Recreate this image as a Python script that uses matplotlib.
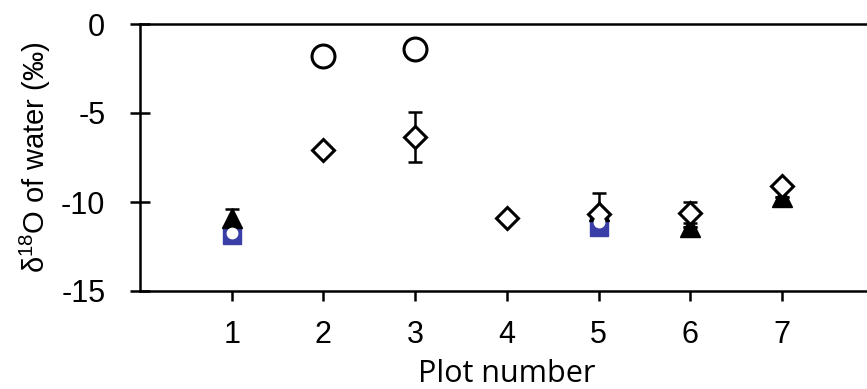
import matplotlib
matplotlib.use("Agg")
import matplotlib.pyplot as plt

plt.rcParams['font.family'] = ['Liberation Sans', 'DejaVu Sans']
plt.rcParams['mathtext.fontset'] = 'custom'
plt.rcParams['mathtext.rm'] = 'Liberation Sans'

# Data
circle_x = [2, 3]
circle_y = [-1.8, -1.4]

diamond_x = [2, 3, 4, 5, 6, 7]
diamond_y = [-7.1, -6.35, -10.9, -10.7, -10.6, -9.1]
diamond_err = [0, 1.4, 0, 0, 0.6, 0]

triangle_x = [1, 5, 6, 7]
triangle_y = [-10.9, -10.5, -11.4, -9.7]
triangle_err = [0.5, 1.0, 0, 0]

square_x = [1, 5]
square_y = [-11.85, -11.4]

dot_x = [1, 5]
dot_y = [-11.75, -11.1]

xticks = [1, 2, 3, 4, 5, 6, 7]
yticks = [0, -5, -10, -15]

W, H = 867, 389
fig = plt.figure(figsize=(W / 100, H / 100), dpi=100)
x0, x1 = 140, 140 + 8 * 91.7
y0, y1 = 24, 291
ax = fig.add_axes([x0 / W, (H - y1) / H, (x1 - x0) / W, (y1 - y0) / H])

ax.errorbar(triangle_x, triangle_y, yerr=triangle_err, fmt='none', ecolor='black',
            elinewidth=1.8, capsize=5, capthick=1.8, zorder=2)
ax.errorbar(diamond_x, diamond_y, yerr=diamond_err, fmt='none', ecolor='black',
            elinewidth=1.8, capsize=5, capthick=1.8, zorder=2)

ax.plot(square_x, square_y, ls='none', marker='s', ms=12.5, mfc='#3a3fa8', mec='#3a3fa8', zorder=3)
ax.plot(triangle_x, triangle_y, ls='none', marker='^', ms=14, mfc='black', mec='black', zorder=4)
ax.plot(diamond_x, diamond_y, ls='none', marker='D', ms=11.5, mfc='white', mec='black', mew=2.2, zorder=5)
ax.plot(dot_x, dot_y, ls='none', marker='o', ms=7.5, mfc='white', mec='white', zorder=6)
ax.plot(circle_x, circle_y, ls='none', marker='o', ms=16.5, mfc='white', mec='black', mew=2.2, zorder=5)

ax.set_xlim(0, 8)
ax.set_ylim(-15, 0)
ax.set_xticks(xticks)
ax.set_xticklabels([str(t) for t in xticks])
ax.set_yticks(yticks)
ax.set_yticklabels([str(t) for t in yticks])

for s in ax.spines.values():
    s.set_linewidth(1.8)
ax.tick_params(axis='x', direction='out', length=7, width=1.8, labelsize=22, pad=14)
ax.tick_params(axis='y', direction='inout', length=14, width=1.8, labelsize=22, pad=18)

ax.set_xlabel('Plot number', fontsize=22, family=['Open Sans', 'DejaVu Sans'], labelpad=6)
ax.set_ylabel(r'δ$^{\mathregular{18}}$O of water (‰)', fontsize=21, labelpad=6)

fig.savefig('out.png', dpi=100)
